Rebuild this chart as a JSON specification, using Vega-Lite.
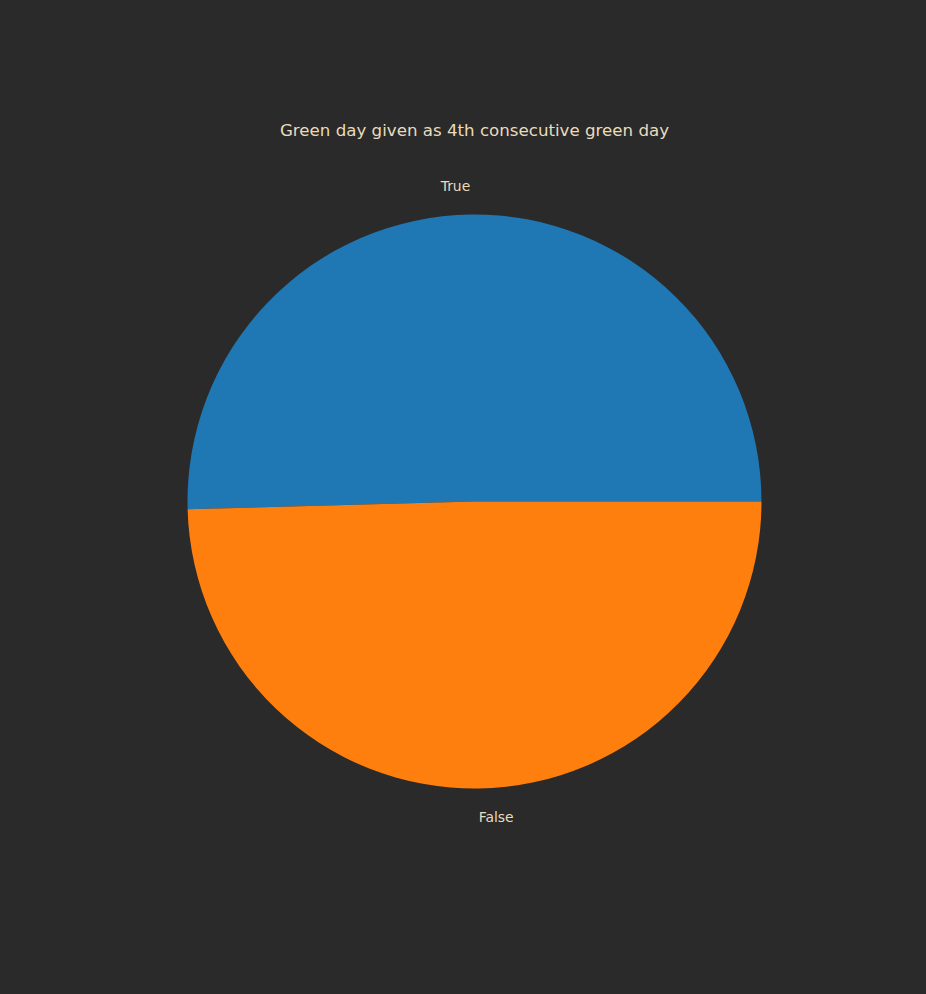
{
  "$schema": "https://vega.github.io/schema/vega-lite/v6.json",
  "autosize": {"type": "none"},
  "width": 574,
  "height": 574,
  "padding": {"left": 187.5, "top": 214.5, "right": 164.5, "bottom": 205.5},
  "background": "#2a2a2a",
  "title": {
    "text": "Green day given as 4th consecutive green day",
    "color": "#e8dcbc",
    "font": "DejaVu Sans",
    "fontSize": 16.67,
    "fontWeight": "normal",
    "anchor": "middle",
    "offset": 40
  },
  "data": {
    "values": [
      {"category": "True", "value": 0.5043},
      {"category": "False", "value": 0.4957}
    ]
  },
  "encoding": {
    "theta": {"field": "value", "type": "quantitative", "stack": true, "scale": {"range": [1.5707963, 7.8539816]}},
    "order": {"field": "category", "type": "nominal", "sort": "ascending"}
  },
  "layer": [
    {
      "mark": {"type": "arc", "stroke": null},
      "encoding": {
        "color": {"field": "category", "type": "nominal", "scale": {"domain": ["True", "False"], "range": ["#1f77b4", "#ff7f0e"]}, "legend": null}
      }
    },
    {
      "mark": {"type": "text", "radius": 315.6, "fontSize": 13.9, "font": "DejaVu Sans", "color": "#e8dcbc", "baseline": "middle", "dy": 1, "align": {"expr": "datum.category == 'True' ? 'right' : 'left'"}},
      "encoding": {
        "text": {"field": "category", "type": "nominal"}
      }
    }
  ],
  "config": {"view": {"stroke": null}}
}
